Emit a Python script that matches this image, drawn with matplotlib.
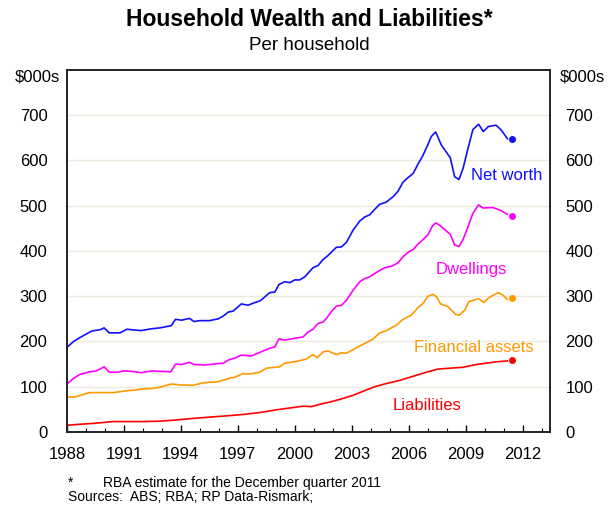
import numpy as np
import matplotlib.pyplot as plt

plt.rcParams['font.family'] = ['Liberation Sans', 'DejaVu Sans']

# quarterly values, $000s per household
net_worth_t = [1988.0, 1988.35, 1988.7, 1989.0, 1989.3, 1989.75, 1989.96, 1990.23, 1990.8, 1991.15,
               1991.9, 1992.45, 1992.9, 1993.5, 1993.72, 1994.04, 1994.45, 1994.7, 1995.0, 1995.5,
               1995.97, 1996.23, 1996.5, 1996.75, 1997.19, 1997.54, 1997.9, 1998.19, 1998.68, 1998.95,
               1999.17, 1999.47, 1999.74, 2000.0, 2000.26, 2000.53, 2000.96, 2001.23, 2001.49, 2001.75,
               2002.19, 2002.46, 2002.72, 2003.07, 2003.42, 2003.68, 2003.95, 2004.21, 2004.47, 2004.82,
               2005.18, 2005.44, 2005.7, 2005.96, 2006.23, 2006.49, 2006.75, 2007.02, 2007.19, 2007.42,
               2007.72, 2008.19, 2008.42, 2008.65, 2008.86, 2009.12, 2009.38, 2009.68, 2009.93, 2010.2,
               2010.6, 2010.88, 2011.2]
net_worth = [187, 200, 209, 216, 223, 226, 230, 219, 219, 227,
             224, 228, 230, 235, 249, 247, 251, 244, 246, 246,
             250, 256, 265, 267, 283, 280, 286, 290, 308, 309,
             326, 332, 330, 336, 336, 343, 363, 368, 381, 390,
             408, 409, 419, 446, 466, 475, 480, 492, 503, 508,
             520, 532, 552, 562, 571, 592, 611, 636, 653, 663,
             634, 606, 564, 558, 582, 626, 668, 680, 664, 675,
             678, 667, 648]

dwellings_t = [1988.0, 1988.33, 1988.68, 1989.21, 1989.56, 1989.96, 1990.23, 1990.7, 1990.96, 1991.4,
               1991.93, 1992.46, 1992.9, 1993.47, 1993.72, 1994.04, 1994.44, 1994.7, 1995.26, 1995.7,
               1996.23, 1996.5, 1996.84, 1997.19, 1997.72, 1998.16, 1998.68, 1998.95, 1999.17, 1999.47,
               2000.0, 2000.44, 2000.7, 2000.96, 2001.23, 2001.49, 2001.67, 2001.93, 2002.19, 2002.46,
               2002.72, 2003.07, 2003.42, 2003.68, 2003.95, 2004.39, 2004.74, 2005.09, 2005.44, 2005.7,
               2005.96, 2006.23, 2006.49, 2006.75, 2007.02, 2007.25, 2007.42, 2007.63, 2007.9, 2008.19,
               2008.42, 2008.65, 2008.86, 2009.12, 2009.38, 2009.68, 2009.91, 2010.44, 2010.88, 2011.19]
dwellings = [106, 118, 127, 133, 135, 144, 132, 132, 135, 134,
             131, 135, 134, 133, 150, 149, 154, 149, 148, 150,
             152, 159, 163, 170, 168, 176, 185, 188, 206, 203,
             207, 210, 221, 227, 240, 243, 251, 266, 278, 280,
             291, 313, 332, 339, 343, 355, 363, 366, 374, 387,
             397, 403, 415, 425, 436, 455, 462, 457, 447, 437,
             413, 410, 425, 453, 483, 502, 495, 496, 489, 481]

fin_assets_t = [1988.0, 1988.5, 1988.86, 1989.21, 1990.44, 1991.14, 1991.67, 1991.93, 1992.46, 1992.9,
                1993.51, 1993.95, 1994.65, 1995.0, 1995.26, 1995.97, 1996.5, 1996.84, 1997.28, 1997.63,
                1998.16, 1998.51, 1999.21, 1999.47, 2000.0, 2000.61, 2000.96, 2001.19, 2001.49, 2001.75,
                2002.19, 2002.46, 2002.72, 2003.07, 2003.6, 2004.12, 2004.44, 2004.82, 2005.35, 2005.7,
                2006.14, 2006.49, 2006.75, 2007.02, 2007.28, 2007.46, 2007.68, 2008.07, 2008.47, 2008.65,
                2008.95, 2009.17, 2009.56, 2009.7, 2009.95, 2010.23, 2010.7, 2010.97, 2011.19]
fin_assets = [77, 78, 83, 87, 87, 91, 93, 95, 96, 99,
              106, 104, 103, 107, 109, 111, 118, 121, 129, 128,
              132, 141, 144, 152, 155, 161, 171, 164, 177, 179,
              171, 175, 174, 182, 194, 205, 218, 224, 236, 249,
              258, 275, 284, 300, 304, 299, 283, 277, 260, 258,
              269, 288, 293, 294, 286, 297, 308, 302, 293]

liabilities_t = [1988.0, 1989.39, 1989.91, 1990.44, 1992.19, 1992.9, 1993.6, 1994.65, 1995.26, 1996.23,
                 1997.37, 1998.16, 1999.04, 1999.74, 2000.44, 2000.88, 2001.4, 2001.84, 2002.37, 2003.07,
                 2003.6, 2004.21, 2004.82, 2005.53, 2006.23, 2006.93, 2007.54, 2008.86, 2009.56, 2010.61,
                 2011.19]
liabilities = [15, 19, 21, 23, 23, 24, 26, 30, 32, 35,
               39, 43, 49, 53, 57, 56, 62, 66, 72, 81,
               90, 100, 107, 114, 123, 132, 139, 143, 149, 155,
               157]

# RBA estimate for the December quarter 2011
est_t = 2011.45
est_values = {'net_worth': 648, 'dwellings': 477, 'fin_assets': 297, 'liabilities': 158}

year_ticks = list(range(1988, 2014, 3))
year_minor = list(range(1988, 2014))

series = [
    (net_worth_t, net_worth, 'net_worth', '#1010ff', 'Net worth', 2009.3, 567, 'left'),
    (dwellings_t, dwellings, 'dwellings', '#ff00ff', 'Dwellings', 2009.3, 360, 'center'),
    (fin_assets_t, fin_assets, 'fin_assets', '#ff9900', 'Financial assets', 2009.45, 187, 'center'),
    (liabilities_t, liabilities, 'liabilities', '#ff0000', 'Liabilities', 2006.95, 58, 'center'),
]

fig = plt.figure(figsize=(6.14, 5.07), dpi=100)
ax = fig.add_axes([0.109, 0.148, 0.787, 0.714])

for t, v, key, color, label, lx, ly, ha in series:
    ax.plot(t, v, color=color, lw=1.2, zorder=3)
    ax.plot(est_t, est_values[key], 'o', color=color, ms=4, zorder=3)
    ax.text(lx, ly, label, color=color, fontsize=12, ha=ha, va='center')

ax.set_xlim(1988, 2013.45)
ax.set_ylim(0, 800)
ax.set_xticks(year_ticks)
ax.set_xticks(year_minor, minor=True)
ax.set_yticks(range(0, 800, 100))
ax.grid(axis='y', color='#ece9dd', lw=1)
ax.set_axisbelow(True)

ax.tick_params(axis='x', which='major', direction='in', length=5, width=1, labelsize=12, pad=11)
ax.tick_params(axis='x', which='minor', direction='in', length=3, width=0.8)
ax.tick_params(axis='y', length=0, labelsize=12, pad=14)

ax2 = ax.twinx()
ax2.set_ylim(0, 800)
ax2.set_yticks(range(0, 800, 100))
ax2.tick_params(axis='y', length=0, labelsize=12, pad=11)

for a in (ax, ax2):
    for s in a.spines.values():
        s.set_color('#222222')
        s.set_linewidth(1.2)

fig.text(0.061, 0.848, '$000s', fontsize=12, ha='center', va='center')
fig.text(0.948, 0.848, '$000s', fontsize=12, ha='center', va='center')

fig.text(0.504, 0.962, 'Household Wealth and Liabilities*', fontsize=16.5, fontweight='bold',
         ha='center', va='center')
fig.text(0.504, 0.911, 'Per household', fontsize=13.5, ha='center', va='center')

fig.text(0.111, 0.047, '*', fontsize=10, ha='left', va='center')
fig.text(0.168, 0.047, 'RBA estimate for the December quarter 2011', fontsize=10, ha='left', va='center')
fig.text(0.111, 0.019, 'Sources:  ABS; RBA; RP Data-Rismark;', fontsize=10, ha='left', va='center')

fig.savefig('out.png', dpi=100)
